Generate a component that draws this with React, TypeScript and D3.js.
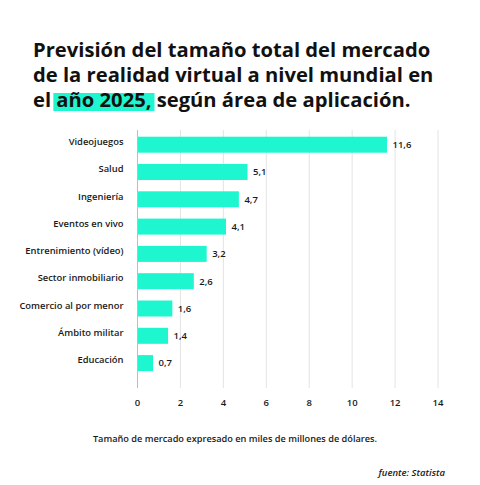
import { useEffect, useRef } from 'react';
import * as d3 from 'd3';

const categories = [
    'Videojuegos',
    'Salud',
    'Ingeniería',
    'Eventos en vivo',
    'Entrenimiento (vídeo)',
    'Sector inmobiliario',
    'Comercio al por menor',
    'Ámbito militar',
    'Educación',
];
const values = [11.6, 5.1, 4.7, 4.1, 3.2, 2.6, 1.6, 1.4, 0.7];
const xTicks = [0, 2, 4, 6, 8, 10, 12, 14];

const titleLines = [
    'Previsión del tamaño total del mercado',
    'de la realidad virtual a nivel mundial en',
];
const titleLast = ['el ', 'año 2025,', ' según área de aplicación.'];
const footnote = 'Tamaño de mercado expresado en miles de millones de dólares.';
const source = 'fuente: Statista';

const MINT = '#1ef6cf';
const FONT = '"Open Sans", "Noto Sans", sans-serif';

export default function App() {
    const svgRef = useRef<SVGSVGElement>(null);

    useEffect(() => {
        if (!svgRef.current) return;
        const svg = d3.select(svgRef.current);
        svg.selectAll('*').remove();

        svg.append('rect').attr('width', 480).attr('height', 485).attr('fill', '#fff');

        // title
        const title = svg.append('g').attr('font-family', FONT).attr('font-weight', 700)
            .attr('font-size', 20.2).attr('fill', '#111');
        const hl = title.append('rect').attr('fill', MINT);
        titleLines.forEach((line, i) => {
            title.append('text').attr('x', 33).attr('y', 56.5 + i * 25).text(line);
        });
        const last = title.append('text').attr('x', 33).attr('y', 106.5);
        last.append('tspan').text(titleLast[0]);
        const mark = last.append('tspan').text(titleLast[1]);
        last.append('tspan').text(titleLast[2]);
        const markNode = mark.node() as SVGTSpanElement;
        const start = markNode.getStartPositionOfChar(0).x;
        const end = markNode.getEndPositionOfChar(titleLast[1].length - 1).x;
        hl.attr('x', start - 3).attr('y', 93).attr('width', end - start + 6).attr('height', 18);

        const x = d3.scaleLinear().domain([0, 14]).range([137.5, 438]);
        const y = d3.scaleBand<string>().domain(categories).range([125.4, 382.4])
            .paddingInner(0.414).paddingOuter(0.414);

        // grid
        svg.append('g').selectAll('line').data(xTicks.slice(1)).join('line')
            .attr('x1', d => x(d)).attr('x2', d => x(d))
            .attr('y1', 130).attr('y2', 388)
            .attr('stroke', '#e3e3e3').attr('stroke-width', 1);
        svg.append('line').attr('x1', x(0)).attr('x2', x(0)).attr('y1', 130).attr('y2', 388)
            .attr('stroke', '#bdbdbd').attr('stroke-width', 1);

        const small = (sel: any, size: number) => sel.attr('font-family', FONT)
            .attr('font-size', size).attr('font-weight', 600).attr('fill', '#1a1a1a');

        // tick labels
        small(svg.append('g').selectAll('text').data(xTicks).join('text')
            .attr('x', d => x(d)).attr('y', 406)
            .attr('text-anchor', 'middle'), 9.5).text(d => d);

        const data = categories.map((c, i) => ({ c, v: values[i] }));

        // bars
        svg.append('g').selectAll('rect').data(data).join('rect')
            .attr('x', x(0) + 0.5).attr('y', d => y(d.c)!)
            .attr('width', d => x(d.v) - x(0)).attr('height', y.bandwidth())
            .attr('fill', MINT);

        // value labels
        small(svg.append('g').selectAll('text').data(data).join('text')
            .attr('x', d => x(d.v) + 6).attr('y', d => y(d.c)! + y.bandwidth() / 2)
            .attr('dy', '0.35em'), 9.5).text(d => d3.format('.1f')(d.v).replace('.', ','));

        // category labels
        small(svg.append('g').selectAll('text').data(data).join('text')
            .attr('x', 123.5).attr('y', d => y(d.c)! + y.bandwidth() / 2 - 3)
            .attr('dy', '0.35em').attr('text-anchor', 'end'), 9.4).text(d => d.c);

        small(svg.append('text').attr('x', 235).attr('y', 441.5).attr('text-anchor', 'middle'), 9.2)
            .text(footnote);
        small(svg.append('text').attr('x', 445).attr('y', 476).attr('text-anchor', 'end'), 9.5)
            .attr('font-style', 'italic').text(source);
    }, []);

    return (
        <svg ref={svgRef} width={480} height={485}
            style={{ position: 'absolute', left: 0, top: 0, display: 'block' }} />
    );
}
